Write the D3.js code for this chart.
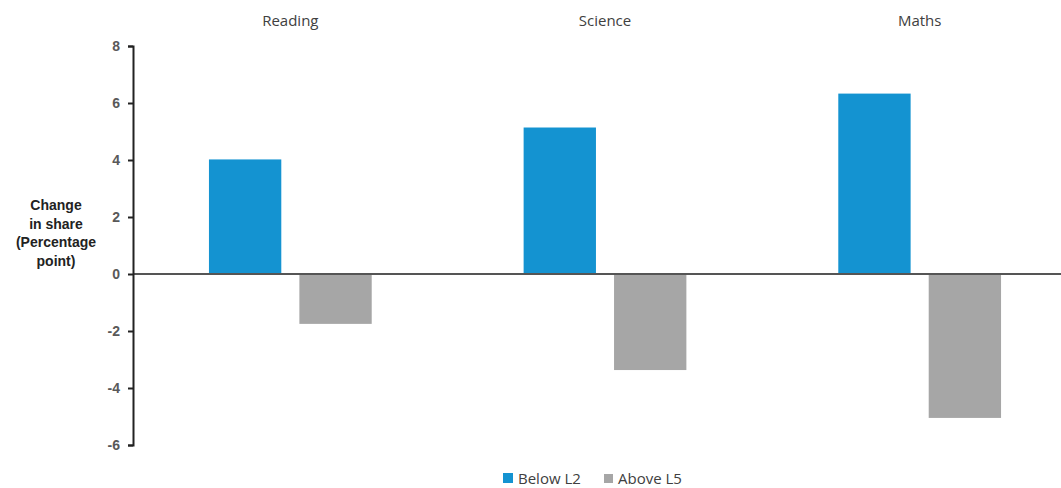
<!DOCTYPE html>
<html><head><meta charset="utf-8">
<script src="https://cdn.jsdelivr.net/npm/d3@7"></script>
<style>body{margin:0;background:#fff}svg{display:block}</style>
</head><body>
<script>
const categories = ["Reading", "Science", "Maths"];
const seriesNames = ["Below L2", "Above L5"];
const belowL2 = [4.02, 5.14, 6.33];
const aboveL5 = [-1.75, -3.37, -5.05];
const yTicks = [-6, -4, -2, 0, 2, 4, 6, 8];
const colors = ["#1493D1", "#A6A6A6"];

const W = 1061, H = 488;
const svg = d3.select("body").append("svg").attr("width", W).attr("height", H);

const y = d3.scaleLinear().domain([-6, 8]).range([445, 46]);
const x0 = d3.scaleBand().domain(categories).range([133, 1077]).padding(0);
const x1 = d3.scaleBand().domain(seriesNames).range([0, x0.bandwidth()]).paddingInner(0.2).paddingOuter(0.84);

const data = categories.map((c, i) => ({cat: c, vals: [belowL2[i], aboveL5[i]]}));

const g = svg.append("g");
data.forEach(d => {
  d.vals.forEach((v, j) => {
    g.append("rect")
      .attr("x", x0(d.cat) + x1(seriesNames[j]))
      .attr("width", x1.bandwidth())
      .attr("y", y(Math.max(0, v)))
      .attr("height", Math.abs(y(v) - y(0)))
      .attr("fill", colors[j]);
  });
});

// zero line
svg.append("line").attr("x1", 133).attr("x2", W).attr("y1", y(0)).attr("y2", y(0))
  .attr("stroke", "#555").attr("stroke-width", 2);

// y axis
const yAxis = svg.append("g").attr("transform", "translate(133,0)")
  .call(d3.axisLeft(y).tickValues(yTicks).tickSize(5).tickPadding(8).tickFormat(d => String(d)));
yAxis.select(".domain").attr("stroke", "#222").attr("stroke-width", 2);
yAxis.selectAll(".tick line").attr("stroke", "#222").attr("stroke-width", 2);
yAxis.selectAll(".tick text").attr("fill", "#595959").attr("font-family", "Liberation Sans, Arial, sans-serif")
  .attr("font-size", 14).attr("font-weight", "bold");

// y title
const titleLines = ["Change", "in share", "(Percentage", "point)"];
svg.append("text").attr("font-family", "Liberation Sans, Arial, sans-serif").attr("font-size", 14)
  .attr("font-weight", "bold").attr("fill", "#222").attr("text-anchor", "middle")
  .selectAll("tspan").data(titleLines).join("tspan")
  .attr("x", 56).attr("y", (d, i) => 210 + i * 18.7).text(d => d);

// category titles
svg.selectAll(".cat").data(categories).join("text")
  .attr("x", d => x0(d) + x1("Below L2") + (x1("Above L5") + x1.bandwidth() - x1("Below L2")) / 2)
  .attr("y", 26).attr("text-anchor", "middle")
  .attr("font-family", "Open Sans, sans-serif").attr("font-size", 15).attr("fill", "#404040")
  .text(d => d);

// legend
const legendItems = [{name: seriesNames[0], color: colors[0], sx: 503, tx: 518, s: 10},
                     {name: seriesNames[1], color: colors[1], sx: 604, tx: 618, s: 9}];
const lg = svg.append("g");
legendItems.forEach(it => {
  lg.append("rect").attr("x", it.sx).attr("y", 483 - it.s).attr("width", it.s).attr("height", it.s).attr("fill", it.color);
  lg.append("text").attr("x", it.tx).attr("y", 484).attr("font-family", "Open Sans, sans-serif")
    .attr("font-size", 15).attr("fill", "#404040").text(it.name);
});
</script>
</body></html>
